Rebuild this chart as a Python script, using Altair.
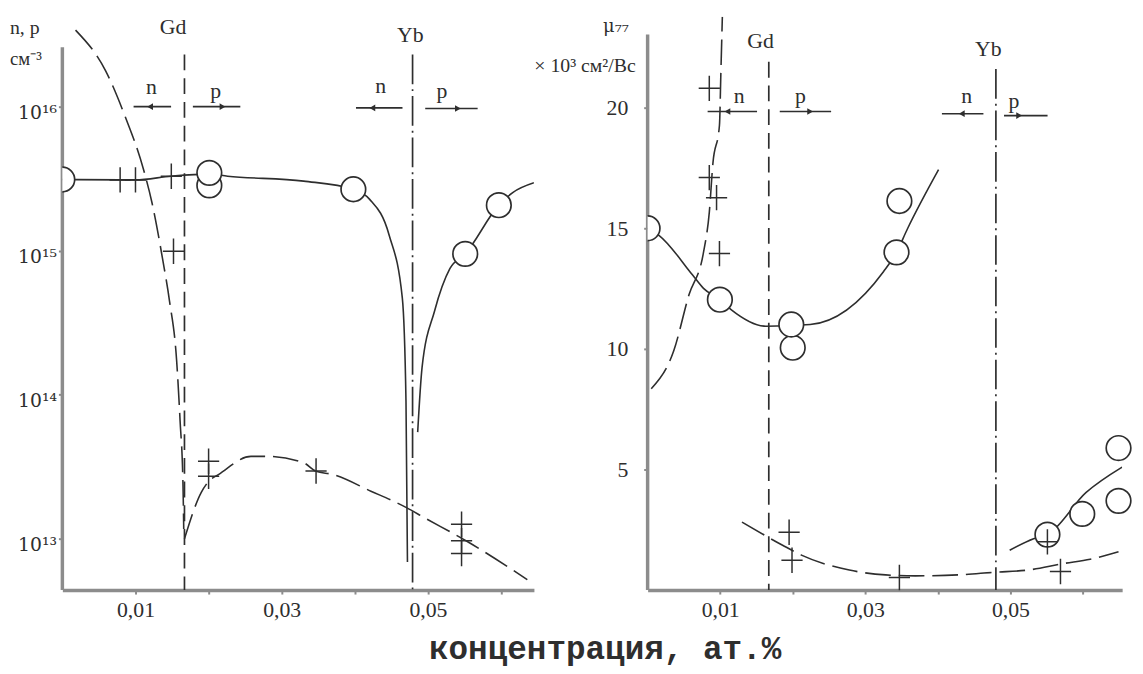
import altair as alt
import pandas as pd

FONT = "Liberation Serif"
INK = "#2e2e2e"
AXC = "#8c8c8c"

# ---------------- shared x ticks ----------------
x_tick_values = [0.01, 0.02, 0.03, 0.04, 0.05, 0.06]
x_tick_labels = ["0,01", "", "0,03", "", "0,05", ""]

# ---------------- LEFT PANEL: n, p (cm^-3), log ----------------
l_ytick_values = [1e13, 1e14, 1e15, 1e16]
l_ytick_labels = ["10¹³", "10¹⁴", "10¹⁵", "10¹⁶"]
l_axis_range = [4.40e12, 2.58e16]

l_circ_x = [0.0, 0.0201, 0.0201, 0.0398, 0.0551, 0.0597]
l_circ_y = [3.12e15, 2.84e15, 3.47e15, 2.67e15, 9.5e14, 2.07e15]

l_cross_x = [0.0079, 0.0100, 0.0149, 0.0152, 0.0200, 0.0200, 0.0347, 0.0546, 0.0546, 0.0546]
l_cross_y = [3.1e15, 3.1e15, 3.29e15, 9.9e14, 3.45e13, 2.72e13, 2.95e13, 1.26e13, 9.7e12, 7.9e12]

# solid curve through circles, dropping at Yb
l_a_x = [0.0, 0.0079, 0.0100, 0.0149, 0.0201, 0.0226, 0.0330, 0.0398, 0.0420, 0.0447, 0.0465, 0.0470, 0.0472]
l_a_y = [3.12e15, 3.1e15, 3.1e15, 3.29e15, 3.4e15, 3.29e15, 3.04e15, 2.67e15, 2.28e15, 1.28e15, 4.68e14, 9.0e13, 6.9e12]
# solid curve rising right of Yb
l_b_x = [0.0486, 0.0492, 0.0509, 0.0530, 0.0551, 0.0597, 0.0616, 0.0645]
l_b_y = [5.5e13, 1.55e14, 3.8e14, 7.5e14, 9.5e14, 2.07e15, 2.53e15, 2.96e15]
# dashed n curve falling to Gd
l_c_x = [0.0018, 0.0059, 0.0086, 0.0111, 0.01225, 0.0137, 0.01466, 0.01563, 0.0161, 0.0165, 0.0166]
l_c_y = [3.4e16, 1.78e16, 8.5e15, 3.66e15, 2.16e15, 8.8e14, 4.45e14, 1.72e14, 6.6e13, 2.34e13, 1.17e13]
# dashed p curve right of Gd
l_d_x = [0.0167, 0.0190, 0.0200, 0.0214, 0.0258, 0.0282, 0.0330, 0.0347, 0.0369, 0.0422, 0.0470, 0.0494, 0.0555, 0.0636]
l_d_y = [1.0e13, 2.1e13, 2.5e13, 2.8e13, 3.73e13, 3.73e13, 3.37e13, 2.94e13, 2.8e13, 2.14e13, 1.65e13, 1.41e13, 9.5e12, 5.2e12]

l_gd_x, l_yb_x = 0.0167, 0.0479
l_vline_top = 2.3e16

l_arrow_x1 = [0.01487, 0.01785, 0.04652, 0.04963]
l_arrow_x2 = [0.00974, 0.02434, 0.04016, 0.05680]
l_arrow_y = [1.0e16, 1.0e16, 0.98e16, 0.97e16]
l_head_x = [0.0120, 0.0219, 0.0424, 0.0541]
l_head_dir = ["left", "right", "left", "right"]

l_text = ["Gd", "n", "p", "Yb", "n", "p"]
l_text_x = [0.01515, 0.01217, 0.02096, 0.0476, 0.04354, 0.05193]
l_text_y = [3.54e16, 1.37e16, 1.29e16, 3.16e16, 1.39e16, 1.29e16]

# ---------------- RIGHT PANEL: mobility ----------------
r_ytick_values = [5, 10, 15, 20]
r_axis_range = [0, 23.03]

r_circ_axis_x = [0.0]
r_circ_axis_y = [15.0]
r_circ_x = [0.00996, 0.0200, 0.0198, 0.0343, 0.0347, 0.0551, 0.0599, 0.0649, 0.0649]
r_circ_y = [12.04, 10.05, 11.01, 14.0, 16.13, 2.3, 3.16, 3.70, 5.89]

r_cross_x = [0.0085, 0.0085, 0.0095, 0.0099, 0.0195, 0.0199, 0.0347, 0.0551, 0.0569]
r_cross_y = [20.8, 17.1, 16.27, 13.95, 2.4, 1.24, 0.52, 2.0, 0.77]

# solid U-shaped curve through circles
r_e_x = [0.0, 0.0016, 0.0062, 0.0077, 0.00996, 0.0115, 0.0163, 0.0224, 0.0325, 0.0343, 0.0358, 0.0401]
r_e_y = [15.0, 14.7, 13.06, 12.51, 12.04, 11.63, 10.94, 11.01, 13.2, 14.0, 14.97, 17.43]
# dashed steep curve through crosses
r_f_x = [0.0005, 0.0036, 0.0057, 0.0077, 0.0085, 0.0090, 0.0099, 0.0101, 0.0103]
r_f_y = [8.35, 9.92, 12.24, 14.0, 15.66, 17.7, 19.27, 21.5, 23.77]
# dashed lower curve
r_g_x = [0.0130, 0.0186, 0.0212, 0.0278, 0.0328, 0.0369, 0.0428, 0.0478, 0.0524, 0.0573, 0.0610, 0.0649]
r_g_y = [2.82, 1.86, 1.45, 0.83, 0.63, 0.59, 0.63, 0.74, 0.83, 1.1, 1.28, 1.59]
# solid curve right of Yb
r_h_x = [0.0499, 0.0532, 0.0551, 0.0604, 0.0654]
r_h_y = [1.65, 2.13, 2.3, 4.04, 5.1]

r_gd_x, r_yb_x = 0.0167, 0.0480
r_gd_top, r_yb_top = 21.9, 21.6

r_arrow_x1 = [0.01508, 0.01821, 0.04628, 0.04912]
r_arrow_x2 = [0.00827, 0.02529, 0.04056, 0.05512]
r_arrow_y = [19.84, 19.84, 19.75, 19.67]
r_head_x = [0.0110, 0.0224, 0.0433, 0.0512]
r_head_dir = ["left", "right", "left", "right"]

r_text = ["Gd", "n", "p", "Yb", "n", "p"]
r_text_x = [0.01557, 0.01262, 0.02105, 0.04696, 0.04396, 0.0505]
r_text_y = [22.75, 20.49, 20.49, 22.42, 20.49, 20.29]

x_title = "концентрация, ат.%"

# ---------------- helpers ----------------
def label_expr(values, labels, relative=False):
    expr = "''"
    for v, lab in reversed(list(zip(values, labels))):
        cond = f"abs(datum.value / {v} - 1) < 1e-6" if relative else f"abs(datum.value - {v}) < 1e-7"
        expr = f"{cond} ? '{lab}' : ({expr})"
    return expr

axis_common = dict(grid=False, title=None, tickColor=AXC, tickWidth=2, tickSize=4,
                   labelColor=INK)

x_axis = alt.Axis(values=x_tick_values, labelExpr=label_expr(x_tick_values, x_tick_labels),
                  labelPadding=6, labelFlush=False, domainColor=AXC, domainWidth=3.5,
                  labelFont=FONT, labelFontSize=22, **axis_common)
l_y_axis = alt.Axis(values=l_ytick_values,
                    labelExpr=label_expr(l_ytick_values, l_ytick_labels, relative=True),
                    labelPadding=2, labelOffset=6, domain=False,
                    labelFont="DejaVu Serif", labelFontSize=19, **axis_common)
r_y_axis = alt.Axis(values=r_ytick_values, labelPadding=16, domain=False,
                    labelFont=FONT, labelFontSize=22, **axis_common)

xs_l = alt.Scale(domain=[0, 0.0645], nice=False, zero=False)
ys_l = alt.Scale(type="log", domain=[4.40e12, 4.21e16], nice=False)
xs_r = alt.Scale(domain=[0, 0.0654], nice=False, zero=False)
ys_r = alt.Scale(domain=[0, 23.77], nice=False, zero=False)

CROSS = "M-1,0L1,0M0,-1.2L0,1.2"


def enc(xs, ys, yaxis, xf="x", yf="y"):
    return dict(x=alt.X(xf, type="quantitative", scale=xs, axis=x_axis),
                y=alt.Y(yf, type="quantitative", scale=ys, axis=yaxis))


def panel(xs, ys, yaxis, axis_range, circles, circles_clip, crosses, solid, dashed, vlines,
          arrows, texts, pix_texts):
    layers = []
    # y axis line (shorter than the plot, as in the original)
    adf0 = pd.DataFrame({"x": [0.0], "y": [axis_range[0]], "y2": [axis_range[1]]})
    layers.append(alt.Chart(adf0).mark_rule(color=AXC, strokeWidth=3.5)
                  .encode(**enc(xs, ys, yaxis), y2=alt.Y2("y2")))
    for cx, cy in solid:
        df = pd.DataFrame({"x": cx, "y": cy})
        layers.append(alt.Chart(df).mark_line(interpolate="monotone", color=INK, strokeWidth=1.6, clip=True)
                      .encode(**enc(xs, ys, yaxis)))
    for cx, cy in dashed:
        df = pd.DataFrame({"x": cx, "y": cy})
        layers.append(alt.Chart(df).mark_line(interpolate="monotone", color=INK, strokeWidth=1.6,
                                              strokeDash=[26, 8], clip=True)
                      .encode(**enc(xs, ys, yaxis)))
    for vx, vtop, vbot, dash in vlines:
        df = pd.DataFrame({"x": [vx], "y": [vtop], "y2": [vbot]})
        layers.append(alt.Chart(df).mark_rule(color=INK, strokeWidth=1.7, strokeDash=dash)
                      .encode(**enc(xs, ys, yaxis), y2=alt.Y2("y2")))
    ax1, ax2, ay, hx, hd = arrows
    adf = pd.DataFrame({"x": ax1, "x2": ax2, "y": ay})
    layers.append(alt.Chart(adf).mark_rule(color=INK, strokeWidth=1.6)
                  .encode(**enc(xs, ys, yaxis), x2=alt.X2("x2")))
    hdf = pd.DataFrame({"x": hx, "y": ay, "d": hd})
    for d in ["left", "right"]:
        layers.append(alt.Chart(hdf).transform_filter(alt.datum.d == d)
                      .mark_point(shape=f"triangle-{d}", filled=True, color=INK, size=45, opacity=1)
                      .encode(**enc(xs, ys, yaxis)))
    cx, cy = circles_clip
    df = pd.DataFrame({"x": cx, "y": cy})
    layers.append(alt.Chart(df).mark_point(shape="circle", filled=True, fill="white", stroke=INK,
                                           strokeWidth=1.7, size=620, opacity=1, clip=True)
                  .encode(**enc(xs, ys, yaxis)))
    cx, cy = circles
    df = pd.DataFrame({"x": cx, "y": cy})
    layers.append(alt.Chart(df).mark_point(shape="circle", filled=True, fill="white", stroke=INK,
                                           strokeWidth=1.7, size=620, opacity=1)
                  .encode(**enc(xs, ys, yaxis)))
    cx, cy = crosses
    df = pd.DataFrame({"x": cx, "y": cy})
    layers.append(alt.Chart(df).mark_point(shape=CROSS, filled=False, stroke=INK,
                                           strokeWidth=1.5, size=460, opacity=1)
                  .encode(**enc(xs, ys, yaxis)))
    tt, tx, ty = texts
    tdf = pd.DataFrame({"t": tt, "x": tx, "y": ty})
    layers.append(alt.Chart(tdf).mark_text(font=FONT, fontSize=22, color=INK, baseline="middle")
                  .encode(**enc(xs, ys, yaxis), text=alt.Text("t", type="nominal")))
    for t, px, py, align, size, fnt, bold in pix_texts:
        df = pd.DataFrame({"t": [t]})
        kw = dict(font=fnt, fontSize=size, color=INK, align=align, baseline="middle")
        if bold:
            kw["fontWeight"] = "bold"
        layers.append(alt.Chart(df).mark_text(**kw)
                      .encode(x=alt.value(px), y=alt.value(py), text=alt.Text("t", type="nominal")))
    return alt.layer(*layers)


left = panel(
    xs_l, ys_l, l_y_axis, l_axis_range,
    circles=(l_circ_x[1:], l_circ_y[1:]),
    circles_clip=(l_circ_x[:1], l_circ_y[:1]),
    crosses=(l_cross_x, l_cross_y),
    solid=[(l_a_x, l_a_y), (l_b_x, l_b_y)],
    dashed=[(l_c_x, l_c_y), (l_d_x, l_d_y)],
    vlines=[(l_gd_x, l_vline_top, 4.40e12, [16, 8]), (l_yb_x, l_vline_top, 4.40e12, [30, 5, 2, 5])],
    arrows=(l_arrow_x1, l_arrow_x2, l_arrow_y, l_head_x, l_head_dir),
    texts=(l_text, l_text_x, l_text_y),
    pix_texts=[("n, p", -53, 11, "left", 20, FONT, False),
               ("см⁻³", -53, 43, "left", 19, FONT, False),
               (x_title, 549, 640, "center", 33, "Liberation Mono", True)],
).properties(width=477, height=580)

right = panel(
    xs_r, ys_r, r_y_axis, r_axis_range,
    circles=(r_circ_x, r_circ_y),
    circles_clip=(r_circ_axis_x, r_circ_axis_y),
    crosses=(r_cross_x, r_cross_y),
    solid=[(r_e_x, r_e_y), (r_h_x, r_h_y)],
    dashed=[(r_f_x, r_f_y), (r_g_x, r_g_y)],
    vlines=[(r_gd_x, r_gd_top, 0, [16, 8]), (r_yb_x, r_yb_top, 0, [30, 5, 2, 5])],
    arrows=(r_arrow_x1, r_arrow_x2, r_arrow_y, r_head_x, r_head_dir),
    texts=(r_text, r_text_x, r_text_y),
    pix_texts=[("μ₇₇", -32, 10, "center", 18, "DejaVu Serif", False),
               ("× 10³ см²/Вс", -12, 50, "right", 20, FONT, False)],
).properties(width=480, height=580)

chart = (
    alt.hconcat(left, right, spacing=115, bounds="flush")
    .properties(padding={"left": 2, "top": 4, "right": 0, "bottom": 0})
    .configure_view(strokeWidth=0)
)

chart.save("out.html", embed_options={"renderer": "svg", "actions": False})
